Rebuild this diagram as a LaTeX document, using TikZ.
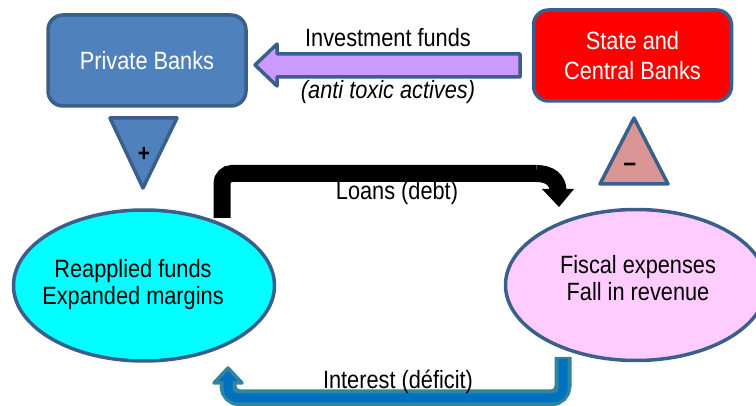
\documentclass[tikz,border=0pt]{standalone}
\usepackage{fontspec}
\setmainfont{Liberation Sans}[FakeStretch=0.87]
\definecolor{pbblue}{HTML}{4F81BD}
\definecolor{edgeblue}{HTML}{3A5F8B}
\definecolor{statered}{HTML}{FF0000}
\definecolor{violet}{HTML}{CC99FF}
\definecolor{rosetri}{HTML}{D99694}
\definecolor{cyanfill}{HTML}{00FFFF}
\definecolor{pinkfill}{HTML}{FFCCFF}
\definecolor{tealc}{HTML}{31859C}
\definecolor{bluec}{HTML}{0070C0}
\tikzset{
  bigtext/.style={font=\fontsize{25}{30}\selectfont, align=center, inner sep=0pt},
  bankbox/.style={draw=edgeblue, line width=3.5pt, rounded corners=15pt, minimum width=198pt, minimum height=91pt, inner sep=0pt, text=white, font=\fontsize{25}{30}\selectfont, align=center},
  oval/.style={ellipse, draw=edgeblue, line width=3.5pt, minimum width=261pt, minimum height=151pt, inner sep=0pt},
  tri/.style={draw=edgeblue, line width=3.5pt, line join=round},
}
\usetikzlibrary{shapes.geometric}
\begin{document}
\begin{tikzpicture}[x=1pt,y=-1pt]
\useasboundingbox (0,0) rectangle (756,406);
% ellipses
\node[oval, fill=cyanfill] (left) at (144,285.5) {};
\node[oval, fill=pinkfill] (right) at (636,285) {};
\node[bigtext, font=\fontsize{25}{27}\selectfont] (lefttxt) at (133,285) {Reapplied funds\\Expanded margins};
\node[bigtext, font=\fontsize{25}{27}\selectfont] (righttxt) at (638,278.5) {Fiscal expenses\\Fall in revenue};
% boxes
\node[bankbox, fill=pbblue] (pb) at (147,60.5) {Private Banks};
\node[bankbox, fill=statered] (sb) at (632.5,55.5) {State and\\Central Banks};
% purple arrow
\draw[tri, fill=violet] (255,65) -- (277,44) -- (277,54) -- (520,54) -- (520,77) -- (277,77) -- (277,86) -- cycle;
\node[bigtext] (inv) at (388,38) {Investment funds};
\node[bigtext, font=\fontsize{25}{30}\selectfont\itshape] (anti) at (388,92) {(anti toxic actives)};
% triangles
\draw[tri, fill=pbblue] (110,118) -- (177,118) -- (143,188) -- cycle;
\node[inner sep=0pt, font=\fontsize{24}{24}\selectfont\bfseries] (plus) at (144,154) {+};
\draw[tri, fill=rosetri] (634,118) -- (668,184) -- (600,184) -- cycle;
\node[inner sep=0pt, font=\fontsize{26}{26}\selectfont\bfseries] (minus) at (630,167) {–};
% black loans arrow
\coordinate (l1) at (222,218);
\coordinate (l2) at (222,173.5);
\coordinate (l3) at (536,173.5);
\coordinate (l4) at (558,191);
\draw[line width=17pt, black, rounded corners=10pt] (l1) -- (l2) -- (l3);
\draw[line width=17pt, black] (l3) .. controls (550,173.5) and (558,180) .. (l4);
\fill[black] (542,189) -- (574,189) -- (559,207) -- cycle;
\node[bigtext] (loans) at (397,193) {Loans (debt)};
% interest arrow
\coordinate (i1) at (563,357);
\coordinate (i2) at (563,398);
\coordinate (i3) at (228,398);
\coordinate (i4) at (228,383);
\draw[line width=17pt, tealc, rounded corners=12pt] (i1) -- (i2) -- (i3) -- (i4);
\draw[line width=3.5pt, tealc, fill=bluec, line join=round] (214,383) -- (242,383) -- (228,368) -- cycle;
\draw[line width=9pt, bluec, rounded corners=10pt] (563,359) -- (i2) -- (i3) -- (228,381);
\node[bigtext] (interest) at (398,382) {Interest (déficit)};
\end{tikzpicture}
\end{document}
